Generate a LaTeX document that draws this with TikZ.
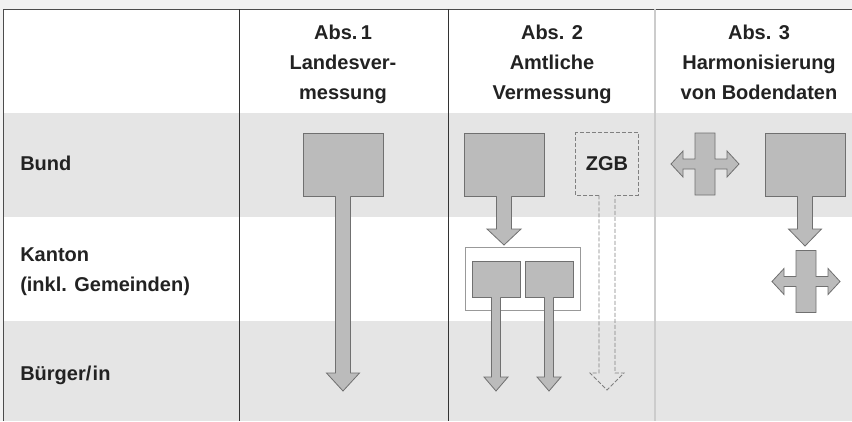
\documentclass[tikz,border=0pt]{standalone}
\usepackage{fontspec}
\setmainfont{Liberation Sans}
\usetikzlibrary{calc}
\definecolor{rowgray}{HTML}{E5E5E5}
\definecolor{margingray}{HTML}{F2F2F2}
\definecolor{shapefill}{HTML}{BBBBBB}
\definecolor{shapeline}{HTML}{707070}
\definecolor{textgray}{HTML}{222222}
\newcommand{\blockarrow}[6]{%
  \path[#1fill] ($(#2.south)+(-#4,-1)$) -- ($(#3)+(-#4,-#6)$) -- ($(#3)+(-#5,-#6)$) -- (#3)
    -- ($(#3)+(#5,-#6)$) -- ($(#3)+(#4,-#6)$) -- ($(#2.south)+(#4,-1)$) -- cycle;
  \path[#1line] ($(#2.south)+(-#4,0)$) -- ($(#3)+(-#4,-#6)$) -- ($(#3)+(-#5,-#6)$) -- (#3)
    -- ($(#3)+(#5,-#6)$) -- ($(#3)+(#4,-#6)$) -- ($(#2.south)+(#4,0)$);
}

\begin{document}
\begin{tikzpicture}
  [x=0.75pt,y=-0.75pt,
   every node/.style={font=\bfseries\fontsize{15}{22.5}\selectfont,text=textgray},
   colhead/.style={align=center},
   rowhead/.style={anchor=west,align=left,inner sep=0pt},
   box/.style={draw=shapeline,fill=shapefill,line width=0.6pt,inner sep=0pt,
     minimum width=60pt,minimum height=47.25pt},
   smallbox/.style={box,minimum width=36pt,minimum height=27pt},
   frame/.style={draw=black!40,fill=white,line width=0.6pt,inner sep=0pt,
     minimum width=86.25pt,minimum height=47.25pt},
   ghostbox/.style={inner sep=0pt,minimum width=46.5pt,minimum height=46.5pt},
   solidfill/.style={fill=shapefill},
   solidline/.style={draw=shapeline,line width=0.6pt},
   ghostfill/.style={},
   ghostline/.style={draw=black!50,line width=0.6pt,dash pattern=on 3pt off 1.5pt},
   crossarrow/.pic={
     \filldraw[fill=shapefill,draw=shapeline,line width=0.6pt]
       (-10,-31) -- (10,-31) -- (10,-5) -- (22,-5) -- (22,-13) -- (34,0)
       -- (22,13) -- (22,5) -- (10,5) -- (10,31) -- (-10,31) -- (-10,5)
       -- (-22,5) -- (-22,13) -- (-34,0) -- (-22,-13) -- (-22,-5) -- (-10,-5) -- cycle;
   }]

  \useasboundingbox (0,0) rectangle (852,421);
  \fill[margingray] (0,0) rectangle (852,421);
  \fill[white] (3,9) rectangle (852,421);
  \fill[rowgray] (3,113) rectangle (852,217);
  \fill[rowgray] (3,321) rectangle (852,421);

  \draw[black!70,line width=0.6pt] (3,421) -- (3,9) -- (852,9);
  \foreach \x in {239,448}
    \draw[black!80,line width=0.6pt] (\x,9) -- (\x,421);
  \draw[black!20,line width=1.4pt] (655,9) -- (655,421);

  \node[colhead] (abs1) at (343,64) {Abs.\,1\\Landesver-\\messung};
  \node[colhead] (abs2) at (552,64) {Abs. 2\\Amtliche\\Vermessung};
  \node[colhead] (abs3) at (759,62) {Abs. 3\\Harmonisierung\\von Bodendaten};

  \node[rowhead] (bund) at (20,163) {Bund};
  \node[rowhead] (kanton) at (20,272) {Kanton\\(inkl. Gemeinden)};
  \node[rowhead] (buerger) at (20,375) {Bürger/\kern1pt in};

  \node[box] (lvbund) at (343,164.5) {};
  \node[box] (avbund) at (504,164.5) {};
  \node[ghostbox] (zgb) at (607,164) {ZGB};
  \node[box] (bdbund) at (805,164.5) {};
  \node[frame] (avkanton) at (522.5,278.5) {};
  \node[smallbox] (gemA) at (496,279) {};
  \node[smallbox] (gemB) at (549,279) {};

  \draw[ghostline] ($(zgb.south)+(-8,0)$) -- (zgb.south west) -- (zgb.north west)
    -- (zgb.north east) -- (zgb.south east) -- ($(zgb.south)+(8,0)$);

  \coordinate (lvtip) at (343,391);
  \coordinate (avtip) at (504,245);
  \coordinate (gemAtip) at (496,391);
  \coordinate (gemBtip) at (549,391);
  \coordinate (zgbtip) at (607,390);
  \coordinate (bdtip) at (805,246);

  \foreach \from/\to/\sw/\hw/\hl in
    {lvbund/lvtip/7.5/16.5/18, avbund/avtip/7.5/17/16, gemA/gemAtip/4.5/12/14,
     gemB/gemBtip/4.5/12/14, bdbund/bdtip/7.5/16.5/17}
    \blockarrow{solid}{\from}{\to}{\sw}{\hw}{\hl};
  \blockarrow{ghost}{zgb}{zgbtip}{8}{17}{17}

  \pic (bdcrossA) at (705,164) {crossarrow};
  \pic (bdcrossB) at (806,281.5) {crossarrow};
\end{tikzpicture}
\end{document}
